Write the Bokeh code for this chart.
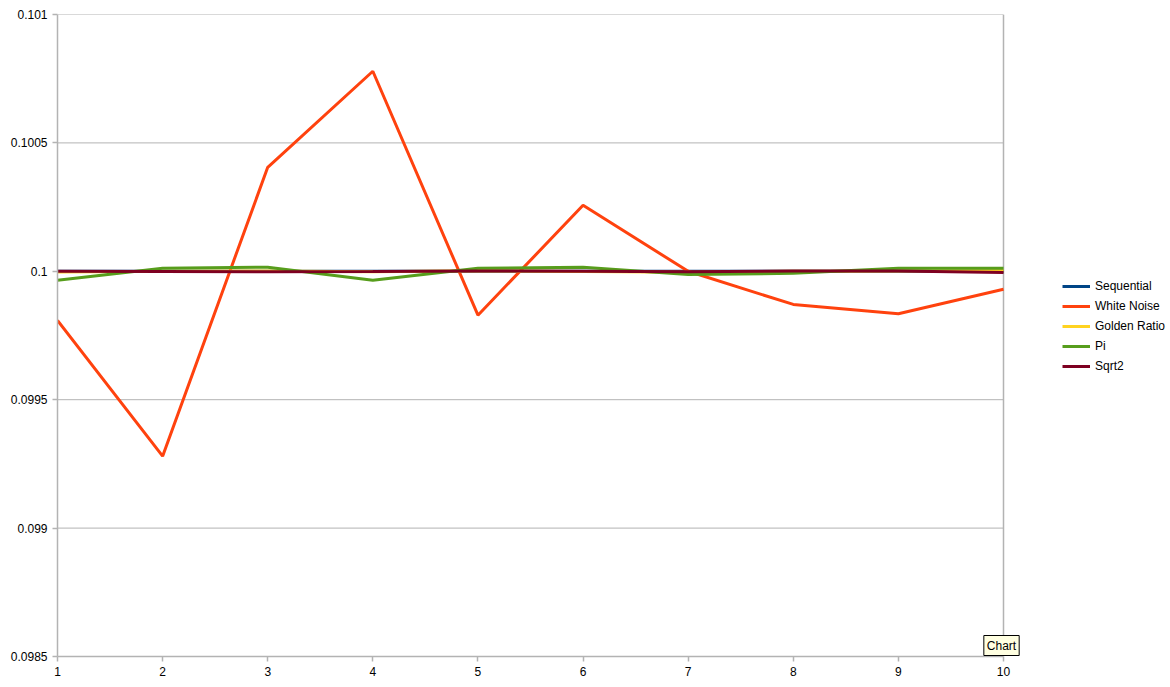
from bokeh.plotting import figure
from bokeh.models import FixedTicker, Legend, LegendItem, Label, Range1d
from bokeh.embed import file_html
from bokeh.resources import INLINE

x = [1, 2, 3, 4, 5, 6, 7, 8, 9, 10]
sequential = [0.1, 0.1, 0.1, 0.1, 0.1, 0.1, 0.1, 0.1, 0.1, 0.1]
white_noise = [0.099809, 0.099280, 0.100405, 0.100779, 0.099829,
               0.100257, 0.100000, 0.099871, 0.099835, 0.099930]
golden_ratio = [0.099997, 0.100000, 0.100001, 0.099998, 0.100002,
                0.099999, 0.099996, 0.100000, 0.100001, 0.100003]
pi_vals = [0.099965, 0.100012, 0.100016, 0.099965, 0.100012,
           0.100016, 0.099988, 0.099992, 0.100012, 0.100012]
sqrt2 = [0.100000, 0.099999, 0.099998, 0.099999, 0.100001,
         0.100000, 0.099998, 0.100001, 0.100001, 0.099995]

series_names = ["Sequential", "White Noise", "Golden Ratio", "Pi", "Sqrt2"]
series_values = [sequential, white_noise, golden_ratio, pi_vals, sqrt2]
series_colors = ["#004586", "#ff420e", "#ffd320", "#579d1c", "#7e0021"]

y_ticks = [0.0985, 0.099, 0.0995, 0.1, 0.1005, 0.101]
y_tick_labels = ["0.0985", "0.099", "0.0995", "0.1", "0.1005", "0.101"]

FONT = "Liberation Sans"
GRID = "#b3b3b3"

W, H = 1170, 687
LEFT, TOP, BOTTOM = 57, 14, 31
PLOT_RIGHT = 1003  # pixel where x = 10 sits; the legend lives to its right
x_min, x_max = x[0], x[-1]
x_end = x_min + (x_max - x_min) * (W - LEFT) / (PLOT_RIGHT - LEFT)

p = figure(width=W, height=H, output_backend="svg", toolbar_location=None,
           x_range=Range1d(x_min, x_end), y_range=Range1d(y_ticks[0], y_ticks[-1]),
           min_border_left=LEFT, min_border_top=TOP, min_border_right=0,
           min_border_bottom=BOTTOM)

p.outline_line_color = None
p.background_fill_color = "white"
p.border_fill_color = "white"

p.xaxis.ticker = FixedTicker(ticks=x)
p.xaxis.bounds = (x_min, x_max)
p.yaxis.ticker = FixedTicker(ticks=y_ticks)
p.yaxis.major_label_overrides = dict(zip(y_ticks, y_tick_labels))

for ax in (p.xaxis[0], p.yaxis[0]):
    ax.axis_line_color = GRID
    ax.axis_line_width = 1.5
    ax.major_tick_line_color = GRID
    ax.major_tick_line_width = 1.5
    ax.major_tick_out = 5
    ax.major_tick_in = 0
    ax.minor_tick_line_color = None
    ax.major_label_text_font = FONT
    ax.major_label_text_font_size = "12px"
    ax.major_label_text_color = "black"
    ax.major_label_standoff = 5

p.xgrid.grid_line_color = None
p.ygrid.grid_line_color = None

# horizontal grid lines and right border, limited to the plotted x span
p.segment(x0=[x_min] * len(y_ticks), x1=[x_max] * len(y_ticks),
          y0=y_ticks, y1=y_ticks, line_color=GRID, line_width=1)
p.segment(x0=[x_max], x1=[x_max], y0=[y_ticks[0]], y1=[y_ticks[-1]],
          line_color=GRID, line_width=1.5)

items = []
for name, vals, col in zip(series_names, series_values, series_colors):
    r = p.line(x, vals, line_color=col, line_width=3)
    items.append(LegendItem(label=name, renderers=[r]))

legend = Legend(items=items, location=(1062 - LEFT, H - BOTTOM - 376 + 0),
                orientation="vertical",
                glyph_width=28, glyph_height=20, label_height=20,
                label_standoff=5, spacing=0, padding=0, margin=0,
                border_line_alpha=0, background_fill_alpha=0,
                label_text_font=FONT, label_text_font_size="12px",
                label_text_color="black")
p.add_layout(legend, "center")

tip = Label(x=x_max, y=y_ticks[0], x_offset=-2, y_offset=11, text="Chart",
            text_align="center", text_baseline="middle",
            text_font=FONT, text_font_size="12px", text_color="black",
            background_fill_color="#ffffe1", border_line_color="black",
            border_line_width=1, padding=3)
p.add_layout(tip)

open("out.html", "w").write(file_html(p, INLINE))
